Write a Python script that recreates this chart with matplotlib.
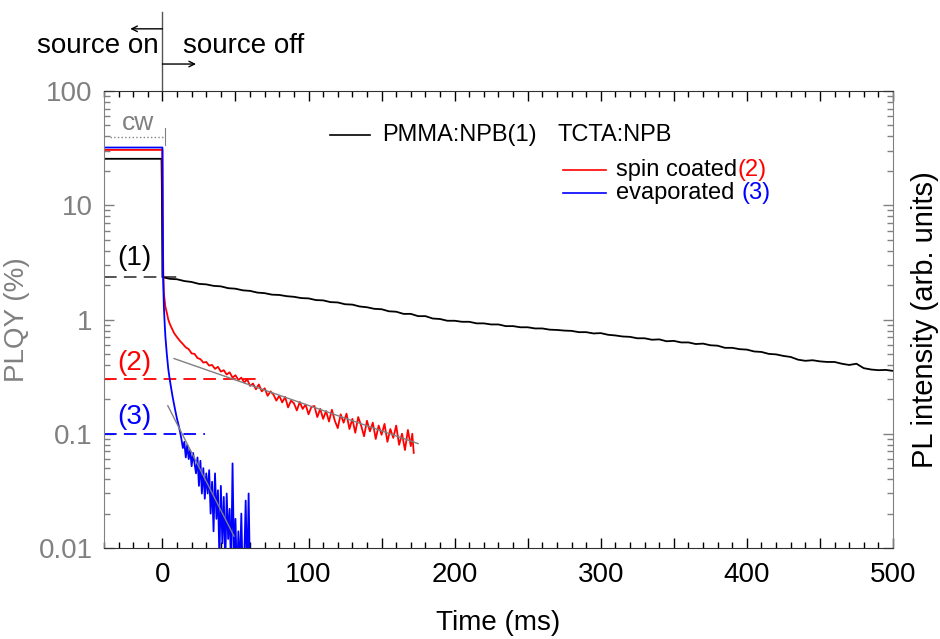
import numpy as np
import matplotlib
matplotlib.use("Agg")
import matplotlib.pyplot as plt
import matplotlib.transforms as mtransforms
from matplotlib.ticker import FixedLocator, FixedFormatter, NullFormatter, LogLocator

plt.rcParams['font.family'] = ['Liberation Sans', 'DejaVu Sans']

# データ
# PMMA:NPB (1)
t_black = [-40, -0.6, -0.4, -0.2] + list(range(0, 501, 5))
v_black = [25.5, 25.5, 15.0, 6.0,
           2.35, 2.27, 2.25, 2.17, 2.13, 2.05, 2.03, 1.97, 1.95, 1.88,
           1.86, 1.80, 1.78, 1.72, 1.70, 1.65, 1.64, 1.60, 1.58, 1.54,
           1.53, 1.48, 1.47, 1.42, 1.41, 1.36, 1.35, 1.30, 1.28, 1.24,
           1.23, 1.18, 1.17, 1.12, 1.12, 1.07, 1.07, 1.02, 1.01, 0.975,
           0.975, 0.955, 0.955, 0.925, 0.925, 0.905, 0.905, 0.875, 0.875, 0.855,
           0.855, 0.835, 0.835, 0.815, 0.81, 0.80, 0.795, 0.775, 0.775, 0.755,
           0.76, 0.735, 0.725, 0.71, 0.705, 0.685, 0.685, 0.665, 0.67, 0.645,
           0.65, 0.63, 0.63, 0.61, 0.615, 0.595, 0.59, 0.565, 0.565, 0.55,
           0.545, 0.525, 0.52, 0.50, 0.495, 0.48, 0.47, 0.445, 0.435, 0.44,
           0.43, 0.425, 0.425, 0.41, 0.40, 0.41, 0.375, 0.365, 0.36, 0.362,
           0.355]

# TCTA:NPB spin coated (2)
t_red = [-40, 0, 0.3, 0.6, 1, 2, 3, 4, 5, 6, 8, 10, 12, 14] + list(range(16, 171, 2)) + [171, 172]
v_red = [30.5, 30.5, 6.0, 2.6, 1.7, 1.3, 1.15, 1.0, 0.92, 0.86, 0.76, 0.70, 0.65, 0.61,
         0.57, 0.55, 0.505, 0.50, 0.46, 0.45, 0.42, 0.425, 0.395, 0.40,
         0.37, 0.385, 0.35, 0.36, 0.33, 0.345, 0.31, 0.325, 0.295, 0.31,
         0.28, 0.30, 0.262, 0.275, 0.245, 0.27, 0.235, 0.25, 0.215, 0.235,
         0.22, 0.195, 0.215, 0.188, 0.21, 0.17, 0.195, 0.185, 0.16, 0.19,
         0.165, 0.18, 0.148, 0.172, 0.175, 0.14, 0.165, 0.135, 0.158, 0.128,
         0.162, 0.13, 0.112, 0.148, 0.125, 0.15, 0.11, 0.135, 0.102, 0.14,
         0.118, 0.095, 0.13, 0.105, 0.125, 0.09, 0.118, 0.098, 0.122, 0.085,
         0.11, 0.092, 0.118, 0.08, 0.10, 0.072, 0.108, 0.078,
         0.10, 0.068]

# TCTA:NPB evaporated (3)
t_blue = [-40, 0, 0.2, 0.5, 1, 1.5, 2, 3, 4, 5, 6, 7, 8, 9, 10, 11] + list(range(12, 61))
v_blue = [32.0, 32.0, 8.0, 2.3, 1.3, 0.95, 0.72, 0.50, 0.37, 0.30, 0.25, 0.21, 0.18, 0.155, 0.135, 0.12,
          0.105, 0.09, 0.075, 0.085, 0.062, 0.08, 0.06, 0.072, 0.052, 0.068,
          0.055, 0.045, 0.062, 0.035, 0.058, 0.03, 0.05, 0.027, 0.045, 0.03,
          0.048, 0.02, 0.038, 0.014, 0.045, 0.018, 0.032, 0.008, 0.035, 0.011,
          0.028, 0.007, 0.03, 0.012, 0.022, 0.006, 0.055, 0.008, 0.018, 0.005,
          0.014, 0.006, 0.02, 0.005, 0.008, 0.026, 0.005, 0.03, 0.005]

# フィット直線 (灰色)
fit_red_t = [8, 175]
fit_red_v = [0.455, 0.082]
fit_blue_t = [3.7, 49]
fit_blue_v = [0.176, 0.0127]

# 破線レベル (1), (2), (3)
level_1, level_1_end = 2.35, 10
level_2, level_2_end = 0.30, 68.5
level_3, level_3_end = 0.10, 29

fig = plt.figure(figsize=(9.4, 6.39), dpi=100)
ax = fig.add_axes([0.1106, 0.1424, 0.8394, 0.7152])
ax.set_yscale('log')
ax.set_xlim(-40, 500)
ax.set_ylim(0.01, 100)

gray = '#808080'

# 破線
ax.plot([-40, level_1_end], [level_1, level_1], '--', color='#444444', lw=1.3, dashes=(7, 4))
ax.plot([-40, level_2_end], [level_2, level_2], '--', color='red', lw=1.3, dashes=(7, 4))
ax.plot([-40, level_3_end], [level_3, level_3], '--', color='blue', lw=1.3, dashes=(7, 4))

# データ
ax.plot(t_black, v_black, color='black', lw=1.3)
ax.plot(t_red, v_red, color='red', lw=1.3)
ax.plot(t_blue, v_blue, color='blue', lw=1.3)

ax.plot(fit_red_t, fit_red_v, color=gray, lw=1)
ax.plot(fit_blue_t, fit_blue_v, color=gray, lw=1)

# cw
ax.plot([-36, 2], [39.5, 39.5], ':', color=gray, lw=1)
ax.plot([2, 2], [33.6, 47], color=gray, lw=0.8)
ax.text(-17, 41, 'cw', color=gray, fontsize=19, ha='center', va='bottom')

# ラベル (1)(2)(3)
ax.text(-19.5, 3.43, '(1)', color='black', fontsize=20, ha='center', va='center')
ax.text(-19.5, 0.42, '(2)', color='red', fontsize=20, ha='center', va='center')
ax.text(-19.5, 0.141, '(3)', color='blue', fontsize=20, ha='center', va='center')

# source on / off
trans = mtransforms.blended_transform_factory(ax.transData, ax.transAxes)
ax.plot([0, 0], [1.0, 1.173], color='#555555', lw=1, transform=trans, clip_on=False)
ax.annotate('', xy=(-22, 1.136), xytext=(0, 1.136), xycoords=trans, textcoords=trans,
            arrowprops=dict(arrowstyle='->', color='black', lw=1, shrinkA=0, shrinkB=0))
ax.annotate('', xy=(23, 1.059), xytext=(0, 1.059), xycoords=trans, textcoords=trans,
            arrowprops=dict(arrowstyle='->', color='black', lw=1, shrinkA=0, shrinkB=0))
ax.text(-2.5, 1.098, 'source on', transform=trans, fontsize=20, ha='right', va='center')
ax.text(14, 1.098, 'source off', transform=trans, fontsize=20, ha='left', va='center')

# 凡例
leg_fs = 17
ax.plot([0.2865, 0.3371], [0.9037, 0.9037], color='black', lw=1.2, transform=ax.transAxes)
ax.text(0.3523, 0.9037, 'PMMA:NPB(1)', transform=ax.transAxes, fontsize=leg_fs, va='center')
ax.text(0.5754, 0.9037, 'TCTA:NPB', transform=ax.transAxes, fontsize=leg_fs, va='center')
ax.plot([0.5817, 0.6362], [0.8271, 0.8271], color='red', lw=1.2, transform=ax.transAxes)
t1 = ax.text(0.649, 0.8271, 'spin coated', transform=ax.transAxes, fontsize=leg_fs, va='center')
ax.annotate('(2)', xy=(1, 0), xycoords=t1, va='bottom', ha='left', fontsize=leg_fs, color='red')
ax.plot([0.5817, 0.6362], [0.7768, 0.7768], color='blue', lw=1.2, transform=ax.transAxes)
t2 = ax.text(0.649, 0.7768, 'evaporated ', transform=ax.transAxes, fontsize=leg_fs, va='center')
ax.annotate('(3)', xy=(1, 0), xycoords=t2, va='bottom', ha='left', fontsize=leg_fs, color='blue')

# 軸
ax.set_xticks(np.arange(0, 501, 50))
ax.set_xticklabels([str(v) if v % 100 == 0 else '' for v in range(0, 501, 50)])
ax.xaxis.set_minor_locator(FixedLocator(np.arange(-40, 501, 10)))
ax.yaxis.set_major_locator(FixedLocator([0.01, 0.1, 1, 10, 100]))
ax.yaxis.set_major_formatter(FixedFormatter(['0.01', '0.1', '1', '10', '100']))
ax.yaxis.set_minor_locator(LogLocator(base=10, subs=np.arange(2, 10)))
ax.yaxis.set_minor_formatter(NullFormatter())

ax.tick_params(axis='x', which='both', direction='in', top=True, labelsize=20, colors='black', pad=10)
ax.tick_params(axis='x', which='major', length=7, width=1)
ax.tick_params(axis='x', which='minor', length=4, width=1)
ax.tick_params(axis='y', which='both', direction='in', right=True, labelsize=20,
               colors=gray, labelcolor=gray, pad=8)
ax.tick_params(axis='y', which='major', length=7, width=1)
ax.tick_params(axis='y', which='minor', length=4, width=1)

ax.spines['left'].set_color(gray)
ax.spines['right'].set_color(gray)
ax.spines['top'].set_color('#333333')
ax.spines['bottom'].set_color('#333333')

ax.set_xlabel('Time (ms)', fontsize=20, labelpad=16)
ax.set_ylabel('PLQY (%)', fontsize=20, color=gray, labelpad=6)
fig.text(0.984, 0.5, 'PL intensity (arb. units)', rotation=90, fontsize=21, ha='center', va='center')

plt.savefig('out.png', dpi=100)
